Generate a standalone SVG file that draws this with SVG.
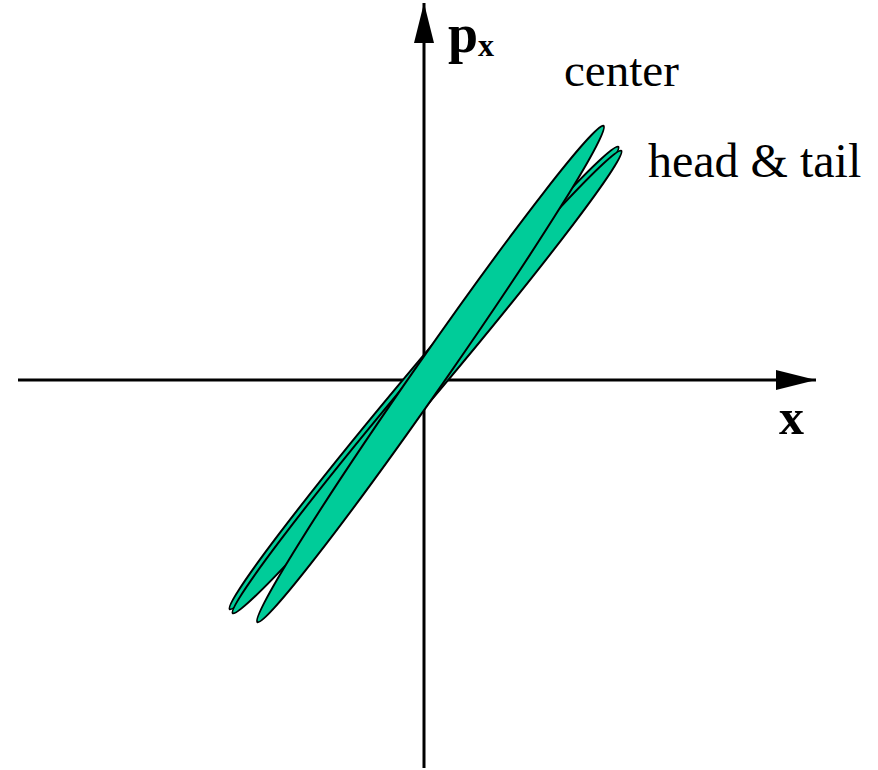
<svg xmlns="http://www.w3.org/2000/svg" width="878" height="770" viewBox="0 0 878 770">
<style>
.ax{stroke:#000;stroke-width:3;fill:none}
.el{fill:#00CC99;stroke:#000;stroke-width:2}
.lbl{font-family:"Liberation Serif","Times New Roman",serif;fill:#000}
.b{font-weight:bold}
</style>
<defs>
<marker id="arr" viewBox="0 0 40 20" refX="40" refY="10" markerWidth="40" markerHeight="20" markerUnits="userSpaceOnUse" orient="auto">
<path d="M0,0 L40,10 L0,20 Z" fill="#000"/>
</marker>
</defs>
<g id="axes">
<line class="ax" x1="18" y1="380" x2="816" y2="380" marker-end="url(#arr)"/>
<line class="ax" x1="424" y1="768" x2="424" y2="3" marker-end="url(#arr)"/>
</g>
<g id="head-tail-1">
<ellipse class="el" cx="424" cy="378" rx="302" ry="15" transform="rotate(-49.96 424 378)"/>
</g>
<g id="head-tail-2">
<ellipse class="el" cx="427" cy="382" rx="302" ry="15" transform="rotate(-49.96 427 382)"/>
</g>
<g id="center">
<ellipse class="el" cx="430.5" cy="374" rx="302.5" ry="15.5" transform="rotate(-55.1 430.5 374)"/>
</g>
<g id="labels">
<text class="lbl b" x="448" y="52" font-size="54">p<tspan font-size="32" dy="4">x</tspan></text>
<text class="lbl b" x="779" y="434" font-size="50">x</text>
<text class="lbl" x="564" y="86" font-size="47">center</text>
<text class="lbl" x="648" y="177" font-size="48">head &amp; tail</text>
</g>
</svg>
